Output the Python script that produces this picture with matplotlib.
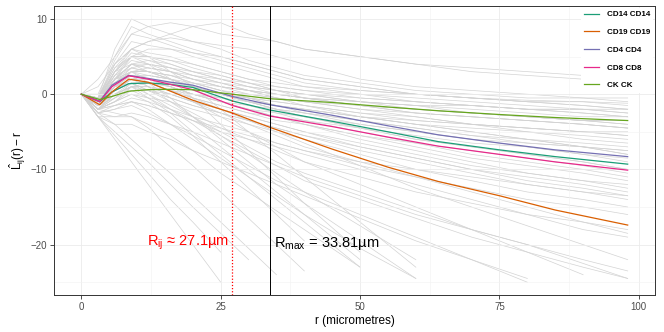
import numpy as np
import matplotlib
matplotlib.use("Agg")
import matplotlib.pyplot as plt

plt.rcParams["font.family"] = ["Liberation Sans", "DejaVu Sans"]
plt.rcParams["mathtext.fontset"] = "custom"
plt.rcParams["mathtext.rm"] = "Liberation Sans"
plt.rcParams["mathtext.it"] = "Liberation Sans"
plt.rcParams["mathtext.bf"] = "Liberation Sans:bold"

# --- courbes moyennes par paire de types cellulaires ---
r_moy = [0, 3.3, 5.5, 8.5, 12, 16, 20, 27.1, 33.8, 45, 55, 64, 75, 85, 98]
paires = ["CD14 CD14", "CD19 CD19", "CD4 CD4", "CD8 CD8", "CK CK"]
couleurs = ["#1B9E77", "#D95F02", "#7570B3", "#E7298A", "#66A61E"]
cd14 = [0, -1.0, 0.3, 1.4, 1.5, 1.3, 0.9, -0.9, -2.1, -3.6, -5.0, -6.3, -7.4, -8.3, -9.3]
cd19 = [0, -1.4, 0.3, 2.0, 1.6, 0.4, -0.8, -2.5, -4.4, -7.3, -9.7, -11.6, -13.5, -15.4, -17.4]
cd4 = [0, -0.9, 1.2, 2.5, 2.1, 1.6, 1.2, -0.3, -1.4, -2.8, -4.2, -5.4, -6.5, -7.4, -8.3]
cd8 = [0, -1.0, 1.0, 2.45, 2.0, 1.3, 0.6, -1.5, -2.9, -4.3, -5.7, -6.9, -8.0, -9.0, -10.1]
ck = [0, -0.7, -0.3, 0.4, 0.6, 0.65, 0.6, 0.0, -0.6, -1.1, -1.7, -2.2, -2.7, -3.1, -3.5]
moyennes = [cd14, cd19, cd4, cd8, ck]

# --- courbes individuelles (fond gris) ---
r_ind = [0, 3, 6, 9, 12, 16, 20, 25, 30, 35, 40, 50, 60, 70, 80, 90, 98]
courbes_grises = [
    [0, -0.5, 3, 5, 5, 4.5, 4, 3, 2, 1.5, 1, 0.5, 0, -0.5, -0.8, -1, -1.2],
    [0, -1, 2, 4, 3.5, 3, 2.5, 2, 1.5, 1, 0.5, 0, -0.5, -1, -1.5, -2, -2.5],
    [0, -1.5, 1, 3, 3, 2.5, 2, 1, 0.5, 0, -0.5, -1, -1.5, -2.5, -3, -3.5, -4],
    [0, -2, 0.5, 2, 2, 1.5, 1, 0, -0.5, -1, -1.5, -2.5, -3, -4, -4.5, -5, -5.5],
    [0, -1, 1.5, 3.5, 4, 3.5, 2.5, 1.5, 0.5, -0.5, -1, -2, -3, -4, -5, -6, -6.5],
    [0, -0.5, 4, 7, 6.5, 6, 5, 4, 3, 2, 1, 0, -1, -1.5, -2, -2.5, -3],
    [0, 0, 5, 9, 8, 7, 6, 5, 4, 3, 2, 1, 0, -0.5, -1, -1, -1.5],
    [0, -2, -1, 1, 1.5, 1, 0, -1, -1.5, -2, -2.5, -3.5, -4.5, -5.5, -6.5, -7, -8],
    [0, -1, 2, 2.5, 2, 1.5, 1.5, 1, 0.5, 0, -0.5, -1.5, -2, -2.5, -3, -3.5, -3.5],
    [0, -0.8, 3, 4, 3, 2, 1, 0, -1, -1.5, -2, -3, -4, -5, -6, -7, -7.5],
    [0, -1.5, 0, 1, 1, 0.5, 0, -0.5, -1, -1.5, -2, -3, -3.5, -4, -4.5, -5, -5],
    [0, -0.5, 6, 10, 9, 8, 7, 6, 4.5, 3.5, 2.5, 1.5, 0.5, 0, -0.5, -0.5, -1],
    [0, -1, 2, 5, 6, 6, 5.5, 5, 4, 3, 2, 1, 0, -0.5, -1, -1.5, -2],
    [0, 1, 4, 6, 7, 8, 9, 9.5, 8, 7, 6, 5, 4, 3, 2.5, 2, 2],
    [0, 2, 5, 8, 9, 9.5, 9, 8, 7.5, 7, 6, 5, 4, 3.5, 3, 2.5, 2],
    [0, -1, 3, 6, 7, 7.5, 7, 6.5, 6, 5, 4, 2, 1, 0.5, 0, -0.5, -0.5],
    [0, -2, -1, 0, -0.5, -1, -2, -3, -4, -5, -6, -8, -10, -11.5, -13, -14, -15],
    [0, -2.5, -2, -1, -1.5, -2.5, -3.5, -5, -6, -7, -8, -10, -12, -14, -16, -18, -19],
    [0, -1, 1, 2, 1, 0, -1, -2.5, -4, -5.5, -7, -9, -11, -13, -15, -17, -18.5],
    [0, -3, -3, -2.5, -3, -4, -5, -6.5, -8, -9.5, -11, -13.5, -16, -18, -20, -22, -23.5],
    [0, -2, 0, 1, 0, -1.5, -3, -5, -7, -9, -10.5, -13, -15.5, -18, -20, -22.5, -24.5],
    [0, -1.5, 2, 3, 2, 1, -0.5, -2, -3.5, -5, -6.5, -9.5, -12.5, -15, -17.5, -20, -22],
    [0, -3, -4, -4, -5, -6, -7.5, -9, -10.5, -12, -13.5, -16.5, -19.5, -22, -24.5, -27, -29],
    [0, -2.5, -2, -1.5, -2.5, -4, -5.5, -7.5, -9.5, -11.5, -13, -16, -19, -22, -25, -28, -30],
    [0, -1, 0.5, 1.5, 0.5, -1, -2.5, -4.5, -6, -7.5, -9, -11, -13, -14.5, -16, -17, -18],
    [0, -2, -1.5, -0.5, -1, -2, -3, -4, -5, -6.5, -7.5, -9.5, -11, -12.5, -14, -15, -16],
    [0, -1.5, 1, 2, 1.5, 0.5, -1, -3, -5, -7, -9, -12, -15, -18, -21, -24, -26],
    [0, -2, -1, 0.5, -0.5, -2, -3.5, -5.5, -7.5, -9.5, -11.5, -14, -16.5, -19, -21, -23, -24.5],
    [0, -1, 1, 1.5, 0.5, -0.5, -1.5, -2.5, -3.5, -4.5, -5.5, -7, -8.5, -10, -11, -12, -13],
    [0, -2.5, -1.5, -1, -1.5, -2.5, -3.5, -4.5, -5.5, -6.5, -7.5, -9, -10, -11, -12, -13, -13.5],
    [0, -3, -6, -9, -12, -16, -20, -25, -30, -35, -40, -50, -60, -70, -80, -90, -98],
    [0, -3, -5.5, -8, -10.5, -14, -17, -21, -25.5, -30, -34, -42, -50, -58, -66, -74, -80],
    [0, -2.5, -4, -6, -8, -10.5, -13.5, -17, -20.5, -24, -27, -33, -39, -45, -51, -57, -62],
    [0, -2, -2.5, -3, -4.5, -7, -9.5, -13, -16.5, -20, -23.5, -30, -36, -42, -48, -54, -60],
    [0, -2, -1, 0, -1, -3, -5.5, -9, -12.5, -16, -19.5, -26, -32, -38, -44, -50, -56],
    [0, -1.5, 0.5, 1.5, 0, -2, -4, -7, -10, -13, -16, -22, -28, -34, -40, -46, -52],
    [0, -2.5, -3, -3, -4, -5.5, -7.5, -10.5, -13, -15.5, -18, -23, -28, -33, -38, -43, -48],
    [0, -1, 2, 3, 1.5, -0.5, -3, -6, -9, -12, -14.5, -19.5, -24.5, -29, -34, -39, -44],
    [0, -2, -1.5, -1, -2, -4, -6, -8.5, -11, -13.5, -16, -20.5, -24.5, -28, -32, -36, -40],
    [0, -3, -5, -7, -9, -12, -15, -18.5, -22, -25.5, -29, -36, -43, -50, -57, -64, -70],
    [0, -1, 3, 5, 4, 2, -0.5, -4, -7.5, -11, -14.5, -21, -27, -33, -39, -45, -50],
    [0, -2, 0, 1, -0.5, -2.5, -5, -8, -11, -14, -17, -23, -29, -35, -41, -47, -52],
    [0, -1.5, 1.5, 2.5, 1, -1, -3, -5.5, -8, -10.5, -13, -17.5, -22, -26, -30, -34, -38],
    [0, -0.5, 4, 6, 5, 3, 1, -2, -5, -8, -11, -17, -23, -29, -35, -41, -46],
    [0, -1.5, 1.5, 2.5, 2, 1, 0, -1, -2, -3, -4, -5.5, -7, -8.5, -9.5, -10.5, -11.5],
    [0, -1, 2.5, 3.5, 3, 2, 1, 0, -1, -2, -3, -4.5, -6, -7, -8, -9, -10],
    [0, -2, 0, 1, 0.5, -0.5, -1.5, -2.5, -3.5, -4.5, -5.5, -7.5, -9, -10.5, -12, -13, -14],
    [0, -0.5, 3.5, 5, 4.5, 3.5, 2.5, 1.5, 0.5, -0.5, -1.5, -3, -4, -5, -6, -7, -8],
    [0, -1, 1, 3, 3.5, 3, 2, 1, 0, -0.5, -1, -2, -2.5, -3, -3.5, -4, -4.5],
    [0, -1.5, 2, 4, 4.5, 4, 3, 2.5, 1.5, 0.5, 0, -1, -1.5, -2, -2.5, -3, -3],
    [0, -1, 1.5, 3, 2.5, 2, 1.5, 0.5, 0, -0.5, -1, -1.5, -2, -2.5, -3, -3.5, -4],
    [0, -0.5, 2.5, 4.5, 4, 3, 2, 1.5, 1, 0.5, 0, -0.5, -1, -1.5, -2, -2, -2.5],
    [0, -1.5, 0.5, 2, 2.5, 2, 1, 0, -0.5, -1.5, -2, -3, -4, -4.5, -5, -5.5, -6],
    [0, -2, -0.5, 1.5, 1.5, 0.5, -0.5, -1.5, -2.5, -3, -3.5, -4.5, -5.5, -6.5, -7, -8, -9],
    [0, -1, 2, 3.5, 3, 2.5, 1.5, 0.5, -0.5, -1.5, -2.5, -4, -5, -6, -7, -8, -8.5],
    [0, -0.5, 3, 5.5, 5, 4, 3, 2, 1, 0, -0.5, -1.5, -2.5, -3, -3.5, -4, -4.5],
    [0, -1, 1, 2.5, 2.5, 2, 1, 0, -1, -2, -3, -4.5, -6, -7, -8, -9, -10],
    [0, -1.5, 1, 2, 1.5, 0.5, -0.5, -1.5, -2.5, -3.5, -4, -5.5, -6.5, -7.5, -8.5, -9.5, -10.5],
    [0, -0.5, 3.5, 6, 5.5, 5, 4, 3, 2, 1, 0.5, -0.5, -1, -1.5, -2, -2.5, -3],
    [0, -1, 2, 4, 4, 3.5, 3, 2, 1, 0.5, -0.5, -1.5, -2.5, -3, -3.5, -4, -4.5],
    [0, -1.5, 0.5, 2, 2, 1.5, 0.5, -0.5, -1.5, -2.5, -3.5, -5, -6.5, -8, -9, -10, -11],
    [0, -2, -0.5, 1, 1, 0, -1, -2, -3, -4, -5, -7, -8.5, -10, -11.5, -12.5, -13.5],
    [0, -1, 1.5, 3, 3, 2.5, 1.5, 0.5, -0.5, -1, -1.5, -2.5, -3.5, -4, -4.5, -5, -5.5],
    [0, -0.5, 2, 4, 3.5, 3, 2, 1, 0.5, 0, -0.5, -1, -1.5, -1.5, -2, -2, -2],
    [0, -1, 2.5, 5, 5, 4.5, 3.5, 2.5, 1.5, 0.5, 0, -1, -2, -2.5, -3, -3.5, -3.5],
    [0, -1.5, 1, 2.5, 2, 1, 0, -1, -2, -2.5, -3, -4, -5, -6, -6.5, -7, -7.5],
    [0, -2, 0, 1.5, 1.5, 1, 0, -1, -2, -3, -4, -6, -7.5, -9, -10.5, -11.5, -12],
    [0, -1, 1.5, 3, 3, 2, 1, 0, -1, -2, -2.5, -3.5, -4.5, -5.5, -6, -6.5, -7],
    [0, -0.5, 4.5, 8, 7.5, 6.5, 5.5, 4.5, 3.5, 2.5, 1.5, 0.5, 0, -0.5, -1, -1.5, -2],
    [0, -1.5, -0.5, 0.5, 0.5, 0, -1, -2, -3, -4, -5, -6.5, -8, -9.5, -10.5, -11.5, -12.5],
]

r_ij = 27.1
r_max = 33.81

fig = plt.figure(figsize=(6.64, 3.32), dpi=100)
ax = fig.add_axes([54 / 664, 1 - 295 / 332, 601 / 664, 289 / 332])

# les valeurs hors [-25, 10] sont retirées, comme dans le graphique d'origine
for y in courbes_grises:
    y = np.array(y, dtype=float)
    y[(y < -25) | (y > 10)] = np.nan
    ax.plot(r_ind, y, color="#D3D3D3", lw=0.5, zorder=1)

for nom, y, c in zip(paires, moyennes, couleurs):
    ax.plot(r_moy, y, color=c, lw=0.9, label=nom, zorder=3)

ax.axvline(r_ij, color="red", ls=(0, (1, 1.5)), lw=0.9, zorder=4)
ax.axvline(r_max, color="black", lw=0.7, zorder=4)

ax.text(r_ij - 0.6, -19.8, "R$_\\mathregular{ij}$ ≈ 27.1µm", color="red",
        fontsize=10.5, ha="right", va="center")
ax.text(r_max + 0.8, -19.8, "R$_\\mathregular{max}$ = 33.81µm", color="black",
        fontsize=10.5, ha="left", va="center")

ax.set_xlim(-4.9, 102.9)
ax.set_ylim(-26.7, 11.73)
ax.set_xticks([0, 25, 50, 75, 100])
ax.set_yticks([-20, -10, 0, 10])
ax.set_xticks([12.5, 37.5, 62.5, 87.5], minor=True)
ax.set_yticks([-25, -15, -5, 5], minor=True)
ax.grid(which="major", color="#EBEBEB", lw=0.6, zorder=0)
ax.grid(which="minor", color="#F2F2F2", lw=0.4, zorder=0)
ax.tick_params(which="major", length=3, width=0.6, color="#333333",
               labelsize=7, labelcolor="#4D4D4D", pad=2)
ax.tick_params(which="minor", length=0)
for s in ax.spines.values():
    s.set_color("#333333")
    s.set_linewidth(0.7)

ax.set_xlabel("r (micrometres)", fontsize=8.5, labelpad=2)
ax.set_ylabel(r"$\hat{L}_{ij}(r) - r$", fontsize=8.5, labelpad=2)

leg = ax.legend(loc="upper right", fontsize=5.8, frameon=True, fancybox=False,
                facecolor="white", edgecolor="none", framealpha=1,
                handlelength=1.8, labelspacing=1.25, borderpad=0.4,
                handletextpad=1.0, borderaxespad=0.2)
for t in leg.get_texts():
    t.set_fontweight("bold")
leg.set_zorder(5)

fig.savefig("out.png", dpi=100)
